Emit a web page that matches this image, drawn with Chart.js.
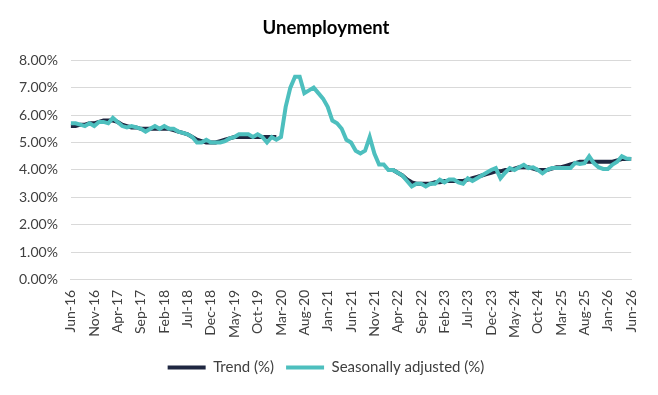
<!DOCTYPE html>
<html>
<head>
<meta charset="utf-8">
<script src="https://cdn.jsdelivr.net/npm/chart.js@4"></script>
<style>
  html, body { margin: 0; padding: 0; background: #fff; }
  #wrap { width: 658px; height: 395px; }
</style>
</head>
<body>
<div id="wrap"><canvas id="unemploymentChart"></canvas></div>
<script>
// Monthly unemployment, Jun-16 .. Jun-26
const months = ['Jan', 'Feb', 'Mar', 'Apr', 'May', 'Jun', 'Jul', 'Aug', 'Sep', 'Oct', 'Nov', 'Dec'];
const labels = [];
for (let i = 0; i <= 120; i++) {
  const m = (5 + i) % 12;
  const y = 16 + Math.floor((5 + i) / 12);
  labels.push(months[m] + '-' + y);
}

const seasonallyAdjusted = [
  5.7, 5.7, 5.65, 5.6, 5.7, 5.6, 5.75, 5.75, 5.7, 5.9,
  5.75, 5.6, 5.55, 5.6, 5.55, 5.5, 5.4, 5.5, 5.6, 5.5,
  5.6, 5.5, 5.5, 5.4, 5.35, 5.3, 5.2, 5.0, 5.0, 5.1,
  5.0, 5.0, 5.0, 5.05, 5.15, 5.2, 5.3, 5.3, 5.3, 5.2,
  5.3, 5.2, 5.0, 5.2, 5.1, 5.2, 6.3, 7.0, 7.4, 7.4,
  6.8, 6.9, 7.0, 6.8, 6.6, 6.3, 5.8, 5.7, 5.5, 5.1,
  5.0, 4.7, 4.6, 4.7, 5.2, 4.6, 4.2, 4.2, 4.0, 4.0,
  3.9, 3.8, 3.6, 3.4, 3.5, 3.5, 3.4, 3.5, 3.5, 3.65,
  3.55, 3.65, 3.65, 3.55, 3.5, 3.7, 3.6, 3.7, 3.8, 3.9,
  4.0, 4.07, 3.7, 3.9, 4.07, 4.0, 4.1, 4.19, 4.07, 4.1,
  4.0, 3.88, 4.0, 4.07, 4.07, 4.07, 4.07, 4.07, 4.26, 4.22,
  4.25, 4.5, 4.25, 4.1, 4.04, 4.04, 4.2, 4.3, 4.5, 4.42,
  4.4
];

// trend series suspended during 2020-22
const trend = [
  5.6, 5.6, 5.65, 5.65, 5.7, 5.7, 5.75, 5.8, 5.8, 5.8,
  5.75, 5.65, 5.6, 5.55, 5.55, 5.5, 5.5, 5.5, 5.5, 5.5,
  5.5, 5.5, 5.45, 5.4, 5.35, 5.3, 5.2, 5.1, 5.05, 5.0,
  5.0, 5.0, 5.05, 5.1, 5.15, 5.2, 5.2, 5.2, 5.2, 5.2,
  5.2, 5.2, 5.2, 5.2, 5.2, null, null, null, null, null,
  null, null, null, null, null, null, null, null, null, null,
  null, null, null, null, null, null, null, null, null, 4.0,
  3.9, 3.8, 3.65, 3.55, 3.5, 3.5, 3.5, 3.5, 3.55, 3.55,
  3.6, 3.6, 3.6, 3.6, 3.6, 3.65, 3.7, 3.75, 3.8, 3.85,
  3.9, 3.95, 3.95, 4.0, 4.0, 4.05, 4.1, 4.1, 4.1, 4.05,
  4.0, 4.0, 4.0, 4.05, 4.1, 4.1, 4.15, 4.2, 4.25, 4.3,
  4.3, 4.3, 4.3, 4.3, 4.3, 4.3, 4.3, 4.35, 4.4, 4.4,
  4.4
];

const yTicks = [0, 1, 2, 3, 4, 5, 6, 7, 8];

const ctx = document.getElementById('unemploymentChart').getContext('2d');

new Chart(ctx, {
  type: 'line',
  data: {
    labels: labels,
    datasets: [
      // first dataset is drawn on top, so the seasonally adjusted line goes first
      {
        label: 'Seasonally adjusted (%)',
        data: seasonallyAdjusted,
        borderColor: '#4dbfbe',
        backgroundColor: '#4dbfbe',
        borderWidth: 4,
        pointRadius: 0,
        fill: false,
      },
      {
        label: 'Trend (%)',
        data: trend,
        borderColor: '#1f2741',
        backgroundColor: '#1f2741',
        borderWidth: 4,
        pointRadius: 0,
        fill: false,
      },
    ],
  },
  options: {
    responsive: true,
    maintainAspectRatio: false,
    animation: false,
    layout: {
      padding: { left: 6, right: 12, top: 8, bottom: 10 },
    },
    plugins: {
      title: {
        display: true,
        text: 'Unemployment',
        color: '#000',
        font: { family: 'Lato', size: 18.5, weight: 'bold' },
        padding: { top: 9, bottom: 21 },
      },
      legend: {
        position: 'bottom',
        labels: {
          color: '#404040',
          font: { family: 'Lato', size: 15 },
          boxWidth: 38,
          boxHeight: 4,
          padding: 12,
          sort: (a, b) => b.datasetIndex - a.datasetIndex,
          generateLabels: (chart) => {
            const items = Chart.defaults.plugins.legend.labels.generateLabels(chart);
            items.forEach((it) => { it.lineWidth = 0; });
            return items;
          },
        },
      },
      tooltip: { enabled: false },
    },
    scales: {
      x: {
        grid: { display: false, drawTicks: false },
        border: { color: '#d9d9d9' },
        ticks: {
          autoSkip: false,
          maxRotation: 90,
          minRotation: 90,
          padding: 10,
          color: '#404040',
          font: { family: 'Lato', size: 14 },
          callback: function (value, index) {
            return index % 5 === 0 ? labels[index] : null;
          },
        },
      },
      y: {
        min: 0,
        max: 8,
        afterBuildTicks: (axis) => {
          axis.ticks = yTicks.map((v) => ({ value: v }));
        },
        grid: { color: '#d9d9d9', drawTicks: false },
        border: { display: false },
        ticks: {
          padding: 13,
          color: '#404040',
          font: { family: 'Lato', size: 14 },
          callback: (v) => v.toFixed(2) + '%',
        },
      },
    },
  },
});
</script>
</body>
</html>
